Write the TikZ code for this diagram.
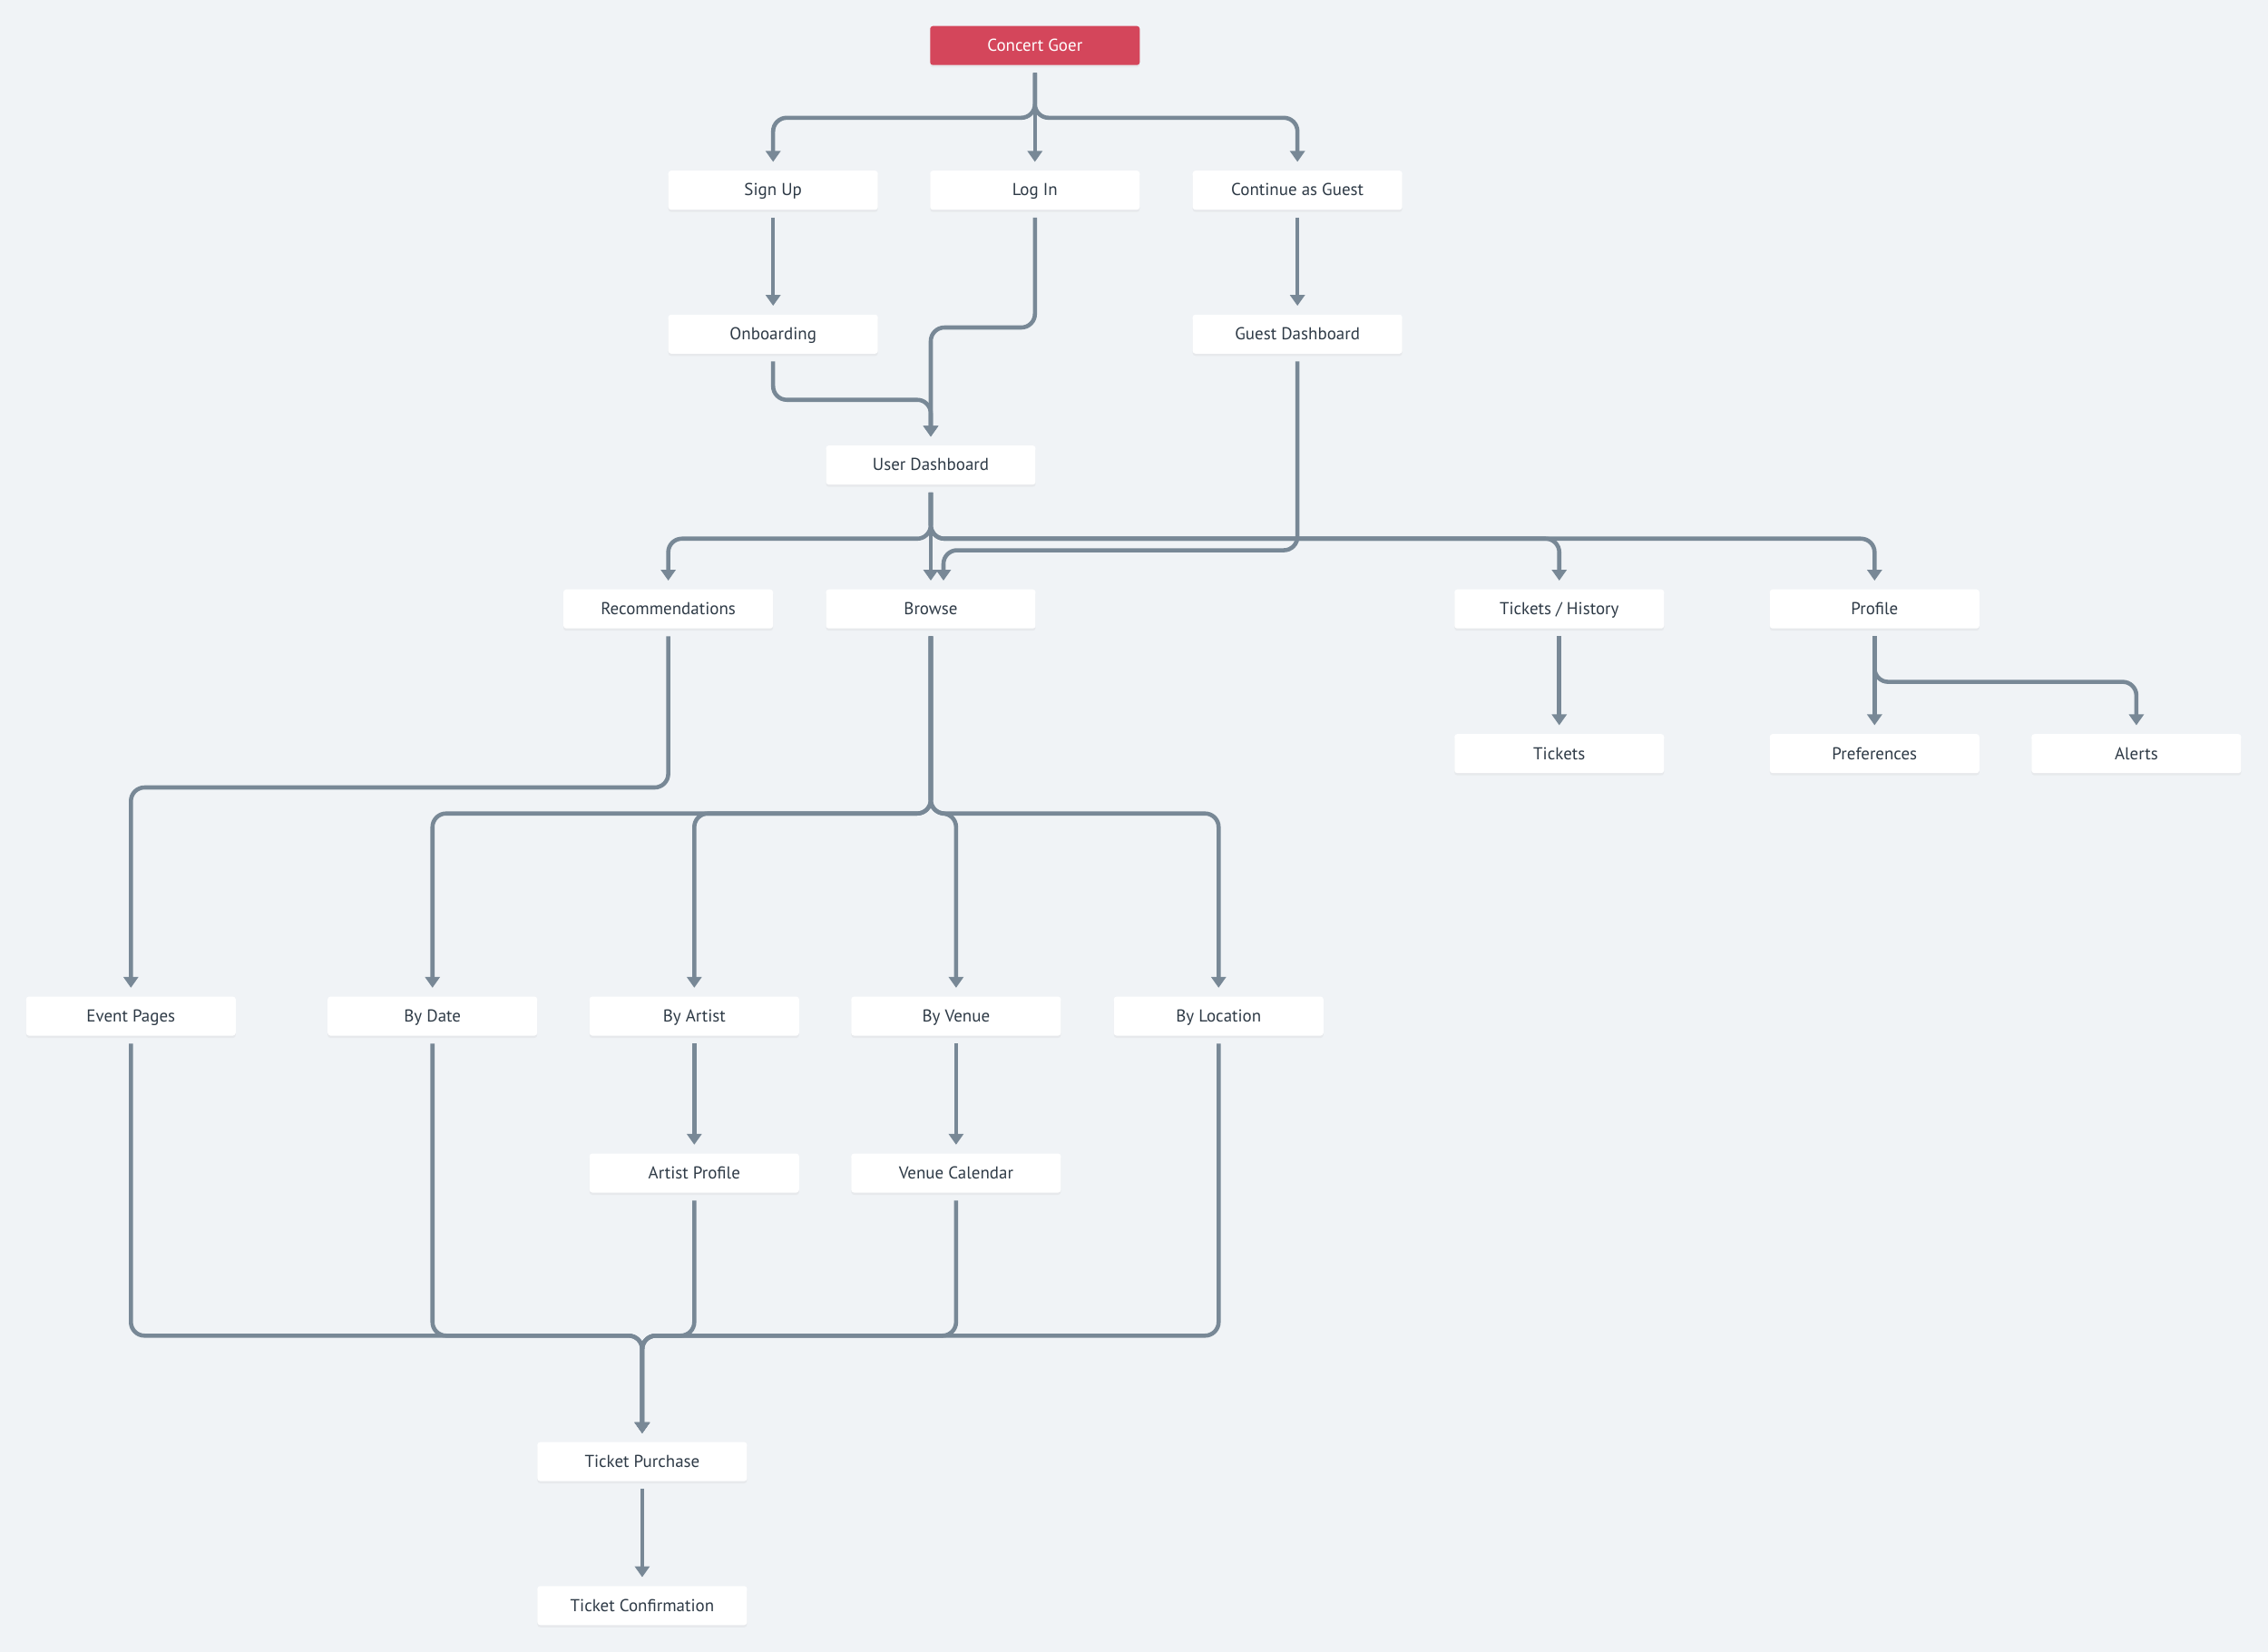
\documentclass[tikz,border=0pt]{standalone}
\usepackage{fontspec}
\setmainfont{PT Sans}
\usepackage{xcolor}
\usetikzlibrary{arrows.meta,shadows}

\definecolor{pagebg}{HTML}{F0F3F6}
\definecolor{linkgray}{HTML}{788896}
\definecolor{goerred}{HTML}{D4465B}
\definecolor{textdark}{HTML}{2E3A46}

\tikzset{
  pagebox/.style={fill=white, rounded corners=0.03cm, minimum width=2.31cm, minimum height=0.43cm,
    inner sep=0pt, text=textdark, text height=0.72em, text depth=0.36em,
    font=\fontsize{5.4}{6.5}\selectfont,
    drop shadow={opacity=0.08, shadow xshift=0cm, shadow yshift=-0.025cm}},
  rootbox/.style={pagebox, fill=goerred, text=white},
  link/.style={draw=linkgray, line width=1.3pt, rounded corners=0.15cm,
    shorten <=0.08cm, shorten >=0.09cm, -{Triangle[width=0.16cm,length=0.12cm]}},
}

\begin{document}
\begin{tikzpicture}[x=0.015944cm, y=-0.015944cm]
\fill[pagebg] (0,0) rectangle (1568,1142.1);

% entry
\node[rootbox] (root) at (715.5,31.5) {Concert Goer};
\node[pagebox] (signup) at (534.5,131.5) {Sign Up};
\node[pagebox] (login) at (715.5,131.5) {Log In};
\node[pagebox] (guest) at (897,131.5) {Continue as Guest};
\node[pagebox] (onboard) at (534.5,231) {Onboarding};
\node[pagebox] (guestdash) at (897,231) {Guest Dashboard};
\node[pagebox] (userdash) at (643.5,321.5) {User Dashboard};

% dashboard sections
\node[pagebox] (recs) at (462,421) {Recommendations};
\node[pagebox] (browse) at (643.5,421) {Browse};
\node[pagebox] (history) at (1078,421) {Tickets / History};
\node[pagebox] (profile) at (1296,421) {Profile};
\node[pagebox] (tickets) at (1078,521) {Tickets};
\node[pagebox] (prefs) at (1296,521) {Preferences};
\node[pagebox] (alerts) at (1477,521) {Alerts};

% browsing
\node[pagebox] (events) at (90.5,702.5) {Event Pages};
\node[pagebox] (bydate) at (299,702.5) {By Date};
\node[pagebox] (byartist) at (480,702.5) {By Artist};
\node[pagebox] (byvenue) at (661,702.5) {By Venue};
\node[pagebox] (byloc) at (842.5,702.5) {By Location};
\node[pagebox] (artistprof) at (480,811) {Artist Profile};
\node[pagebox] (venuecal) at (661,811) {Venue Calendar};

% checkout
\node[pagebox] (purchase) at (444,1010.5) {Ticket Purchase};
\node[pagebox] (confirm) at (444,1110) {Ticket Confirmation};

\draw[link] (root.south) -- ++(0,36) -| (signup);
\draw[link] (root) -- (login);
\draw[link] (root.south) -- ++(0,36) -| (guest);
\draw[link] (signup) -- (onboard);
\draw[link] (guest) -- (guestdash);
\draw[link] (login.south) -- ++(0,81) -| (userdash);
\draw[link] (onboard.south) -- ++(0,31.5) -| (userdash);

\draw[link] (userdash.south) -- ++(0,37) -| (recs);
\draw[link] (userdash) -- (browse);
\draw[link] (userdash.south) -- ++(0,37) -| (history);
\draw[link] (userdash.south) -- ++(0,37) -| (profile);
\draw[link] (guestdash.south) -- ++(0,135.5) -| ([xshift=0.14cm]browse.north); % guests can browse too
\draw[link] (history) -- (tickets);
\draw[link] (profile) -- (prefs);
\draw[link] (profile.south) -- ++(0,36.5) -| (alerts);

\draw[link] (recs.south) -- ++(0,109.5) -| (events);
\foreach \n in {bydate,byartist,byvenue,byloc}
  \draw[link] (browse.south) -- ++(0,127.5) -| (\n);
\draw[link] (byartist) -- (artistprof);
\draw[link] (byvenue) -- (venuecal);

% everything ends at checkout
\foreach \n/\d in {events/207,bydate/207,artistprof/98.5,venuecal/98.5,byloc/207}
  \draw[link] (\n.south) -- ++(0,\d) -| (purchase);
\draw[link] (purchase) -- (confirm);
\end{tikzpicture}
\end{document}
